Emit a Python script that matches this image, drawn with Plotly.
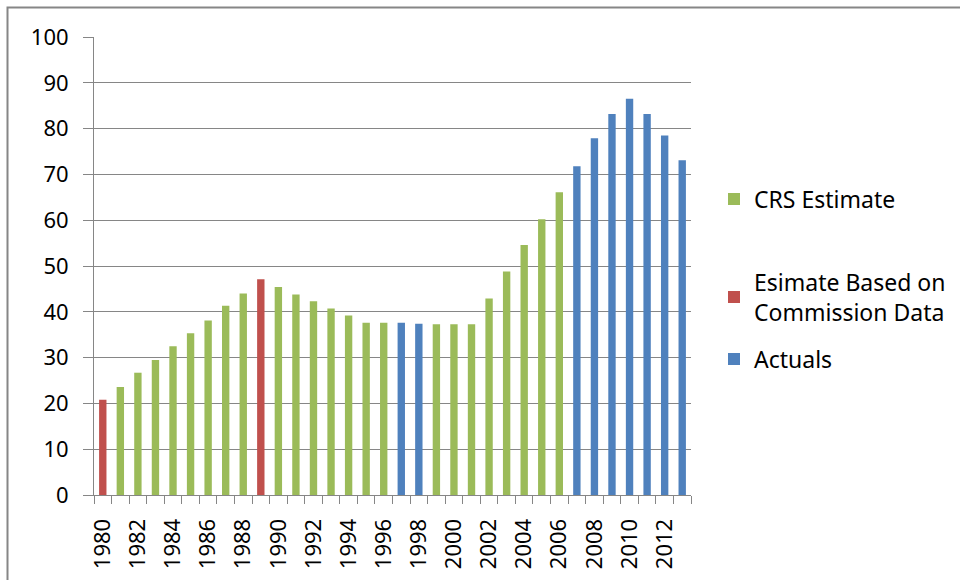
import plotly.graph_objects as go

years = list(range(1980, 2014))
values = [20.8, 23.6, 26.7, 29.5, 32.5, 35.3, 38.1, 41.3, 44.0, 47.1,
          45.4, 43.8, 42.3, 40.7, 39.2, 37.6, 37.6, 37.6, 37.4, 37.3,
          37.3, 37.3, 42.9, 48.8, 54.6, 60.2, 66.1, 71.8, 77.9, 83.2,
          86.5, 83.2, 78.5, 73.1]
series = ["R", "G", "G", "G", "G", "G", "G", "G", "G", "R",
          "G", "G", "G", "G", "G", "G", "G", "B", "B", "G",
          "G", "G", "G", "G", "G", "G", "G", "B", "B", "B",
          "B", "B", "B", "B"]
series_names = {"G": "CRS Estimate",
                "R": "Esimate Based on<br>Commission Data",
                "B": "Actuals"}
series_colors = {"G": "#9BBB59", "R": "#C0504D", "B": "#4F81BD"}
tick_years = list(range(1980, 2013, 2))
tick_labels = [str(y) for y in tick_years]
y_ticks = list(range(0, 101, 10))

W, H = 960, 580
L, T = 94, 37
R, B = W - 691, H - 495
pw, ph = W - L - R, H - T - B

def px_x(sx):
    return (sx - L) / pw

def px_y(sy):
    return (H - B - sy) / ph

fig = go.Figure()
legend_pos = {"G": ("legend", 199), "R": ("legend2", 297), "B": ("legend3", 359)}
for key in ["G", "R", "B"]:
    ys = [v if s == key else None for v, s in zip(values, series)]
    lg, py = legend_pos[key]
    fig.add_trace(go.Bar(x=years, y=ys, name=series_names[key],
                         marker=dict(color=series_colors[key], line=dict(width=0)),
                         legend=lg, width=0.42, showlegend=True))

def legend_cfg(sy):
    return dict(x=px_x(714), y=px_y(sy), xanchor="left", yanchor="middle",
                bgcolor="rgba(0,0,0,0)", font=dict(family="Noto Sans", size=23, color="#000"),
                itemwidth=30, tracegroupgap=0, visible=True)

fig.update_layout(
    width=W, height=H,
    margin=dict(l=L, r=R, t=T, b=B, autoexpand=False),
    paper_bgcolor="white", plot_bgcolor="white",
    barmode="overlay",
    showlegend=True,
    legend=legend_cfg(199),
    legend2=legend_cfg(297),
    legend3=legend_cfg(359),
    font=dict(family="Noto Sans", size=22, color="#000"),
    xaxis=dict(range=[1979.5, 2013.5], tickmode="array", tickvals=tick_years, ticktext=tick_labels,
               tickangle=-90, ticks="outside", ticklen=12, tickcolor="rgba(0,0,0,0)",
               showgrid=False, showline=True, linecolor="#868686",
               linewidth=1, zeroline=False, automargin=False, ticklabelstandoff=2,
               minor=dict(tickmode="array", tickvals=[1979.5 + i for i in range(35)],
                          ticks="outside", ticklen=8, tickcolor="#868686", showgrid=False),
               tickfont=dict(family="Noto Sans", size=22)),
    yaxis=dict(range=[0, 100], tickvals=y_ticks, showgrid=True, gridcolor="#868686", gridwidth=1,
               showline=True, linecolor="#868686", linewidth=1, ticks="outside", ticklen=10,
               tickcolor="#868686", zeroline=False, automargin=False, ticklabelstandoff=10,
               tickfont=dict(family="Noto Sans", size=22)),
)

fig.add_shape(type="rect", xref="paper", yref="paper",
              x0=px_x(7.5), x1=px_x(1000), y0=px_y(640), y1=px_y(7.5),
              line=dict(color="#868686", width=2), fillcolor="rgba(0,0,0,0)", layer="below")

fig.write_html("out.html", config={"displayModeBar": False},
               post_script="document.body.style.margin='0px';")
